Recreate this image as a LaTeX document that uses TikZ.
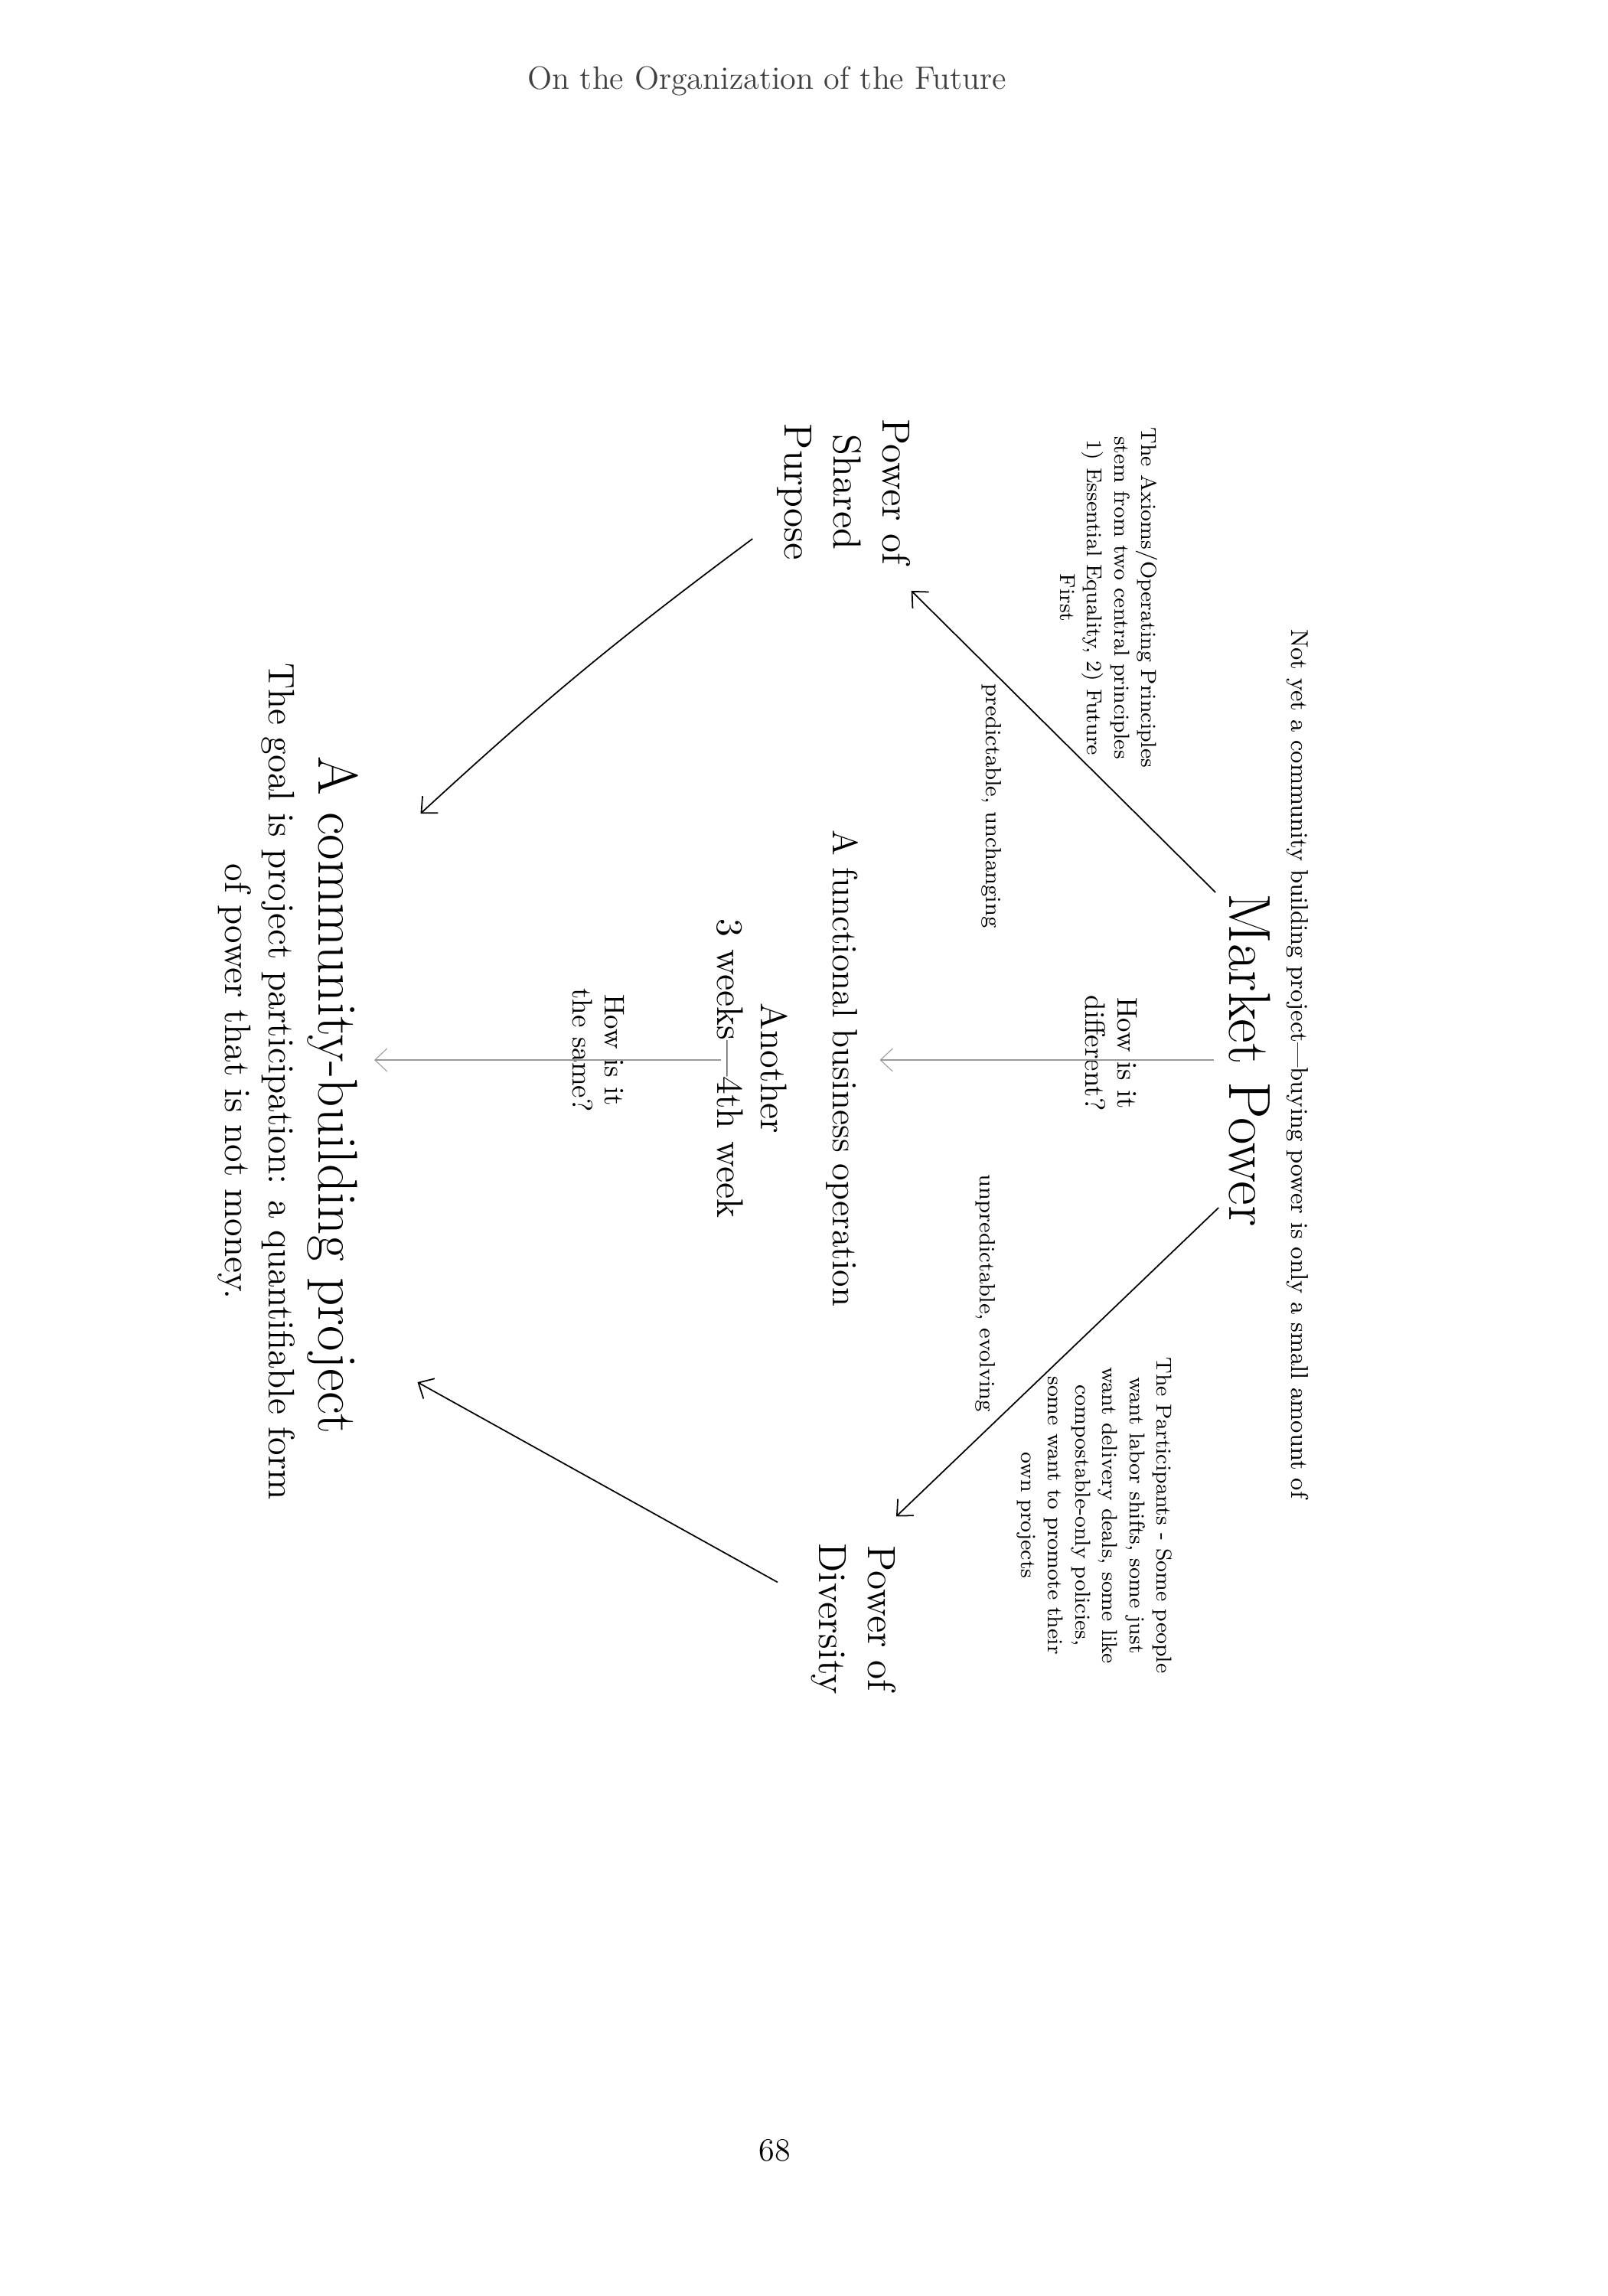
\documentclass[tikz,border=0pt]{standalone}
\usepackage{fontspec}
\usepackage{tikz}
\usetikzlibrary{arrows.meta, calc, positioning}

\begin{document}
\begin{tikzpicture}[
  rot/.style={rotate=-90, inner sep=0pt, align=center},
  bigtext/.style={rot, font=\fontsize{22}{26}\selectfont},
  powertext/.style={rot, font=\fontsize{14.6}{18.2}\selectfont},
  midtext/.style={rot, font=\fontsize{13.1}{16}\selectfont},
  smalltext/.style={rot, font=\fontsize{8}{10.1}\selectfont},
  edgetext/.style={rot, font=\fontsize{8.2}{10}\selectfont},
  asktext/.style={rot, font=\fontsize{10.5}{12}\selectfont\addfontfeatures{LetterSpace=5}},
  flow/.style={-{Straight Barb[length=1.6mm,width=3mm]}, line width=0.5pt},
  greyflow/.style={-{Straight Barb[length=1.6mm,width=3mm]}, line width=0.3pt, black!40}
]
\useasboundingbox (0,0) rectangle (21,-30);

\node[font=\fontsize{12}{14}\selectfont, text=black!75] (header) at (10.02,-1.06) {On the Organization of the Future};
\node[font=\fontsize{12}{14}\selectfont] (pagenum) at (10.12,-28.10) {68};

\node[bigtext] (market) at (16.33,-13.85) {Market Power};
\node[rot, font=\fontsize{9}{11}\selectfont] (notyet) at (16.95,-13.90) {Not yet a community building project—buying power is only a small amount of};
\node[powertext] (shared) at (11.03,-6.43) {Power of\\Shared\\Purpose};
\node[powertext] (diversity) at (11.15,-21.15) {Power of\\Diversity};
\node[smalltext] (axioms) at (14.49,-7.81) {The Axioms/Operating Principles\\stem from two central principles\\1) Essential Equality, 2) Future\\First};
\node[smalltext] (participants) at (14.30,-19.80) {The Participants - Some people\\want labor shifts, some just\\want delivery deals, some like\\compostable-only policies,\\some want to promote their\\own projects};
\node[edgetext] (predictable) at (12.96,-10.53) {predictable, unchanging};
\node[edgetext] (unpredictable) at (12.88,-16.90) {unpredictable, evolving};
\node[asktext] (different) at (14.52,-13.76) {How is it\\different?};
\node[midtext] (functional) at (11.00,-13.96) {A functional business operation};
\node[rot, font=\fontsize{13.8}{16.2}\selectfont] (weeks) at (9.83,-13.96) {Another\\3 weeks—4th week};
\node[asktext] (same) at (7.82,-13.72) {How is it\\the same?};
\node[rot, font=\fontsize{20.8}{24}\selectfont] (community) at (4.35,-14.31) {A community-building project};
\node[rot, font=\fontsize{13.7}{16.4}\selectfont] (goal) at (3.35,-14.13) {The goal is project participation: a quantifiable form\\of power that is not money.};

\draw[flow] ([xshift=-1.7mm,yshift=21.9mm]market.south) -- ([yshift=-3.3mm]shared.north east);
\draw[flow] ([xshift=-1.3mm,yshift=-19.3mm]market.south) -- ([yshift=3.4mm]diversity.north west);
\draw[flow] ([xshift=-3.2mm,yshift=3.5mm]shared.south east) to[bend right=3] ([xshift=8.05mm,yshift=36.8mm]community.north);
\draw[flow] ([xshift=-4.3mm,yshift=-5.2mm]diversity.south west) -- ([xshift=7.65mm,yshift=-37.5mm]community.north);

\draw[greyflow] ([xshift=-1.9mm]market.south) -- ([xshift=2.8mm]market.south -| functional.north);
\draw[greyflow] ([xshift=0.6mm]weeks.south |- market.south) -- ([xshift=2mm]community.north |- market.south);

\end{tikzpicture}
\end{document}
